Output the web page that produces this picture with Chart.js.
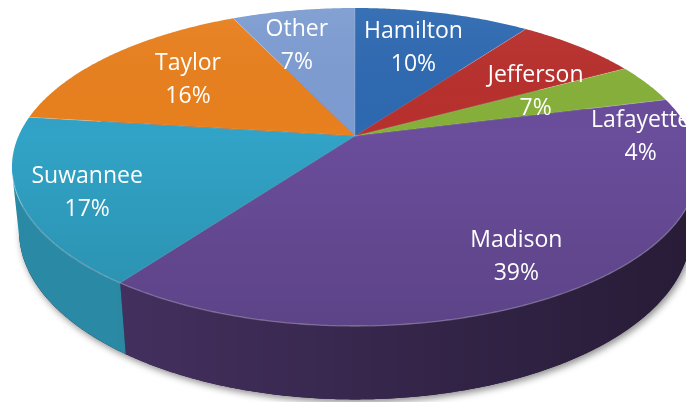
<!DOCTYPE html>
<html>
<head>
<meta charset="utf-8">
<style>
  html, body { margin: 0; padding: 0; background: #ffffff; }
  canvas { display: block; }
</style>
<script src="https://cdn.jsdelivr.net/npm/chart.js@4.4.1/dist/chart.umd.min.js"></script>
</head>
<body>
<canvas id="chart" width="686" height="402"></canvas>
<script>
// County shares (percent)
const counties = ['Hamilton', 'Jefferson', 'Lafayette', 'Madison', 'Suwannee', 'Taylor', 'Other'];
const shares = [10, 7, 4, 39, 17, 16, 7];

// Slice styling: top face colour and side wall colour
const topColors  = ['#2E69B1', '#B8302D', '#86B03A', '#6A4D9B', '#31A3C6', '#E8801E', '#7D9CD1'];
const sideColors = ['#24528B', '#8E2422', '#66872C', '#44305F', '#2A89A4', '#B4621A', '#5F78A3'];
// Pixel nudges applied to each label after projecting its slice midpoint
const labelNudge = [[-10, 8], [8, 25], [63, 41], [0, 13], [-22, 9], [21, 6], [-10, 8]];

// Perspective camera looking down at a unit disc
const view = { cx: 355, cy: 136, kx: 1545, ky: 1575, H: 2.048, L: 4.11, depth: 0.21, labelR: 0.75 };
view.N = Math.hypot(view.H, view.L);

// theta: clockwise from the back of the disc; h: height (0 = top face)
function project(r, theta, h) {
  const x = r * Math.sin(theta), z = r * Math.cos(theta);
  const dy = h - view.H, dz = z + view.L;
  const zc = (-dy * view.H + dz * view.L) / view.N;
  const yc = (dy * view.L + dz * view.H) / view.N;
  return [view.cx + view.kx * x / zc, view.cy - view.ky * yc / zc];
}

function arcPts(t0, t1, h) {
  const n = Math.max(2, Math.ceil(Math.abs(t1 - t0) / (Math.PI / 360)));
  const pts = [];
  for (let i = 0; i <= n; i++) pts.push(project(1, t0 + (t1 - t0) * i / n, h));
  return pts;
}

function tracePath(ctx, pts) {
  ctx.beginPath();
  pts.forEach((p, i) => i ? ctx.lineTo(p[0], p[1]) : ctx.moveTo(p[0], p[1]));
  ctx.closePath();
}

const pie3d = {
  id: 'pie3d',
  beforeDatasetsDraw(chart) {
    const ctx = chart.ctx;
    const arcs = chart.getDatasetMeta(0).data;
    const ang = arcs.map(a => [a.startAngle + Math.PI / 2, a.endAngle + Math.PI / 2]);
    const vis0 = Math.acos(-1 / view.L), vis1 = 2 * Math.PI - vis0;
    const bottom = -view.depth;

    // drop shadow under the disc
    ctx.save();
    tracePath(ctx, arcPts(0, 2 * Math.PI, bottom));
    ctx.shadowColor = 'rgba(0,0,0,0.45)';
    ctx.shadowBlur = 7;
    ctx.shadowOffsetX = 2;
    ctx.shadowOffsetY = 3;
    ctx.fillStyle = '#2a1c3c';
    ctx.fill();
    ctx.restore();

    // side walls, darker towards the right
    const wallShade = ctx.createLinearGradient(110, 0, 686, 0);
    wallShade.addColorStop(0, 'rgba(0,0,0,0)');
    wallShade.addColorStop(0.5, 'rgba(0,0,0,0.22)');
    wallShade.addColorStop(1, 'rgba(0,0,0,0.42)');
    ang.forEach(([a0, a1], i) => {
      const s = Math.max(a0, vis0), e = Math.min(a1, vis1);
      if (e <= s) return;
      const pts = [...arcPts(s, e, 0), ...arcPts(e, s, bottom)];
      tracePath(ctx, pts);
      ctx.fillStyle = sideColors[i];
      ctx.fill();
      ctx.fillStyle = wallShade;
      ctx.fill();
    });

    // top faces
    const topShade = ctx.createLinearGradient(0, 8, 0, 330);
    topShade.addColorStop(0, 'rgba(255,255,255,0.05)');
    topShade.addColorStop(0.4, 'rgba(0,0,0,0)');
    topShade.addColorStop(1, 'rgba(0,0,0,0.13)');
    const apex = project(0, 0, 0);
    ang.forEach(([a0, a1], i) => {
      const pts = [apex, ...arcPts(a0, a1, 0)];
      tracePath(ctx, pts);
      ctx.fillStyle = topColors[i];
      ctx.fill();
      ctx.fillStyle = topShade;
      ctx.fill();
    });
    // slice separators
    ctx.save();
    ctx.strokeStyle = 'rgba(255,255,255,0.18)';
    ctx.lineWidth = 1;
    ang.forEach(([a0]) => {
      const p = project(1, a0, 0);
      ctx.beginPath();
      ctx.moveTo(apex[0], apex[1]);
      ctx.lineTo(p[0], p[1]);
      ctx.stroke();
    });
    // light rim along the front edge
    const rim = arcPts(vis0, vis1, 0);
    ctx.beginPath();
    rim.forEach((p, i) => i ? ctx.lineTo(p[0], p[1]) : ctx.moveTo(p[0], p[1]));
    ctx.strokeStyle = 'rgba(255,255,255,0.28)';
    ctx.lineWidth = 1.3;
    ctx.stroke();
    ctx.restore();

    // labels
    const total = shares.reduce((a, b) => a + b, 0);
    ctx.save();
    ctx.fillStyle = '#ffffff';
    ctx.font = '23px "Open Sans", "Noto Sans", sans-serif';
    ctx.textAlign = 'center';
    ctx.textBaseline = 'middle';
    ang.forEach(([a0, a1], i) => {
      const p = project(view.labelR, (a0 + a1) / 2, 0);
      const x = p[0] + labelNudge[i][0], y = p[1] + labelNudge[i][1];
      ctx.fillText(chart.data.labels[i], x, y - 16.5);
      ctx.fillText(Math.round(shares[i] / total * 100) + '%', x, y + 16.5);
    });
    ctx.restore();
    return false;
  }
};

new Chart(document.getElementById('chart'), {
  type: 'pie',
  data: {
    labels: counties,
    datasets: [{ data: shares, backgroundColor: topColors, borderWidth: 0 }]
  },
  options: {
    responsive: false,
    animation: false,
    rotation: 0,
    plugins: { legend: { display: false }, tooltip: { enabled: false } }
  },
  plugins: [pie3d]
});
</script>
</body>
</html>
